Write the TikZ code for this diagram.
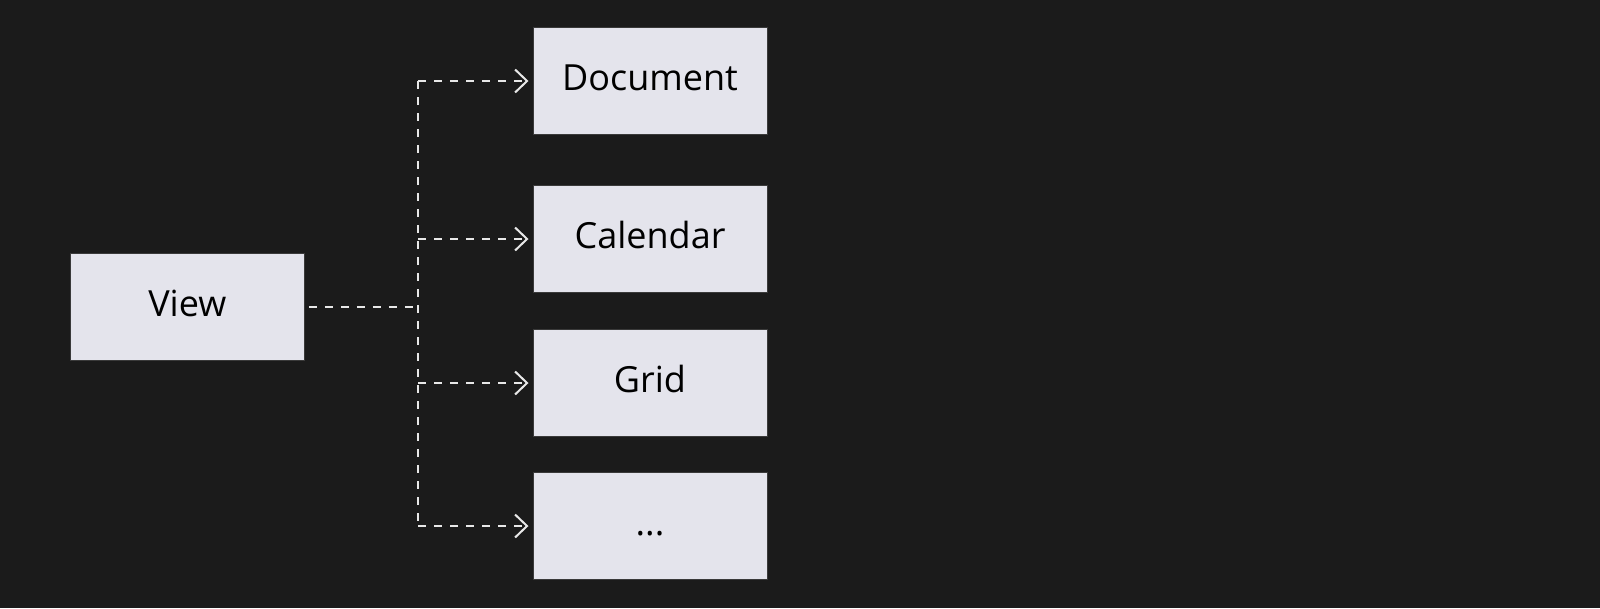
\documentclass[tikz,border=0pt]{standalone}
\usepackage{fontspec}
\setmainfont{Open Sans}
\usetikzlibrary{arrows.meta}
\definecolor{bg}{HTML}{1B1B1B}
\definecolor{boxfill}{HTML}{E4E4EC}
\definecolor{boxline}{HTML}{3A3A3A}
\definecolor{linkcol}{HTML}{E8E8E8}
\begin{document}
\begin{tikzpicture}[x=1pt,y=-1pt,
  box/.style={draw=boxline,line width=1pt,fill=boxfill,minimum width=234pt,minimum height=107pt,
    inner sep=0pt,text height=26pt,text depth=7pt,font=\fontsize{36}{43}\selectfont},
  link/.style={draw=linkcol,line width=2pt,dash pattern=on 8pt off 8pt},
  tip/.style={-{Straight Barb[length=12pt,width=23pt,line width=2pt]}}]
\fill[bg] (0,0) rectangle (1600,608);
\node[box] (view) at (187.3,307) {View};
\node[box] (doc) at (650,81) {Document};
\node[box] (cal) at (650,239) {Calendar};
\node[box] (grid) at (650,383) {Grid};
\node[box] (etc) at (650,526) {...};
\coordinate (bus) at (418,307);
\draw[link,shorten <=4pt] (view.east) -- (bus);
\draw[link] (bus |- doc.west) -- (bus |- etc.west);
\foreach \n in {doc,cal,grid,etc}{
	\draw[link,tip,shorten >=4pt] (bus |- \n.west) -- (\n.west);
	}
\end{tikzpicture}
\end{document}
